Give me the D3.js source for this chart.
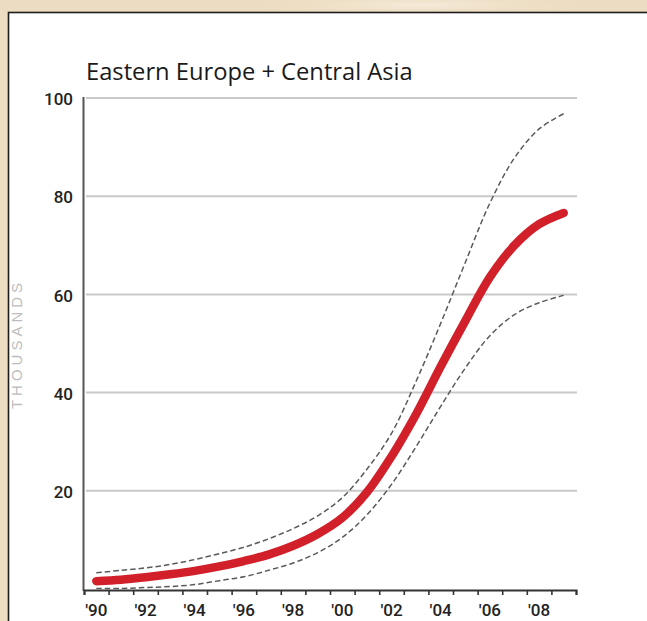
<!DOCTYPE html>
<html>
<head>
<meta charset="utf-8">
<script src="https://cdn.jsdelivr.net/npm/d3@7"></script>
<style>
  html, body { margin: 0; padding: 0; background: #ecdcc1; }
  svg { display: block; }
</style>
</head>
<body>
<script>
// values, thousands
var years = [1990, 1991, 1992, 1993, 1994, 1995, 1996, 1997, 1998, 1999,
             2000, 2001, 2002, 2003, 2004, 2005, 2006, 2007, 2008, 2009];
var estimate = [1.6, 1.9, 2.4, 3.0, 3.7, 4.6, 5.7, 7.0, 8.8, 11.2,
                14.5, 19.7, 27.0, 35.6, 45.3, 54.6, 63.5, 70.0, 74.3, 76.6];
var upper = [3.3, 3.8, 4.3, 5.0, 6.0, 7.2, 8.5, 10.2, 12.3, 14.9,
             18.6, 24.4, 31.7, 42.3, 54.1, 66.5, 78.6, 87.8, 93.7, 96.8];
var lower = [0.1, 0.1, 0.3, 0.5, 0.9, 1.7, 2.5, 3.8, 5.3, 7.4,
             10.5, 15.1, 21.3, 29.0, 37.2, 45.0, 51.6, 55.9, 58.3, 59.8];
var yTicks = [20, 40, 60, 80, 100];
var xLabels = ["'90", "'92", "'94", "'96", "'98", "'00", "'02", "'04", "'06", "'08"];

var W = 647, H = 621;
var tickFont = "Roboto, 'Liberation Sans', Arial, sans-serif";

var svg = d3.select("body").append("svg").attr("width", W).attr("height", H);

// parchment background
var defs = svg.append("defs");
var g1 = defs.append("radialGradient").attr("id", "blot");
g1.append("stop").attr("offset", "0%").attr("stop-color", "#f6ecdb");
g1.append("stop").attr("offset", "100%").attr("stop-color", "#ecdcc1").attr("stop-opacity", 0);
svg.append("rect").attr("width", W).attr("height", H).attr("fill", "#ecdcc1");
svg.append("ellipse").attr("cx", 60).attr("cy", 300).attr("rx", 60).attr("ry", 220).attr("fill", "url(#blot)");
svg.append("ellipse").attr("cx", 420).attr("cy", 5).attr("rx", 200).attr("ry", 12).attr("fill", "url(#blot)");

// white panel
svg.append("rect")
  .attr("x", 8.5).attr("y", 12.5)
  .attr("width", 700).attr("height", 700)
  .attr("fill", "#fff")
  .attr("stroke", "#1c1c1c")
  .attr("stroke-width", 1.6);

var x = d3.scaleLinear().domain([1990, 2010]).range([84, 576]);
var y = d3.scaleLinear().domain([0, 100]).range([589, 98]);

// title, sized to the width it has in the picture
var title = svg.append("text")
  .attr("x", 86).attr("y", 80)
  .attr("font-family", "'Open Sans', Lato, sans-serif")
  .attr("font-weight", 500)
  .attr("font-size", 21)
  .attr("fill", "#1a1a1a")
  .text("Eastern Europe + Central Asia");
var tw = title.node().getComputedTextLength();
title.attr("font-size", 21 * 327 / tw);

// gridlines
svg.append("g").selectAll("line").data(yTicks).enter().append("line")
  .attr("x1", 86).attr("x2", 577)
  .attr("y1", d => y(d)).attr("y2", d => y(d))
  .attr("stroke", "#c9c9c9")
  .attr("stroke-width", 2);

// y labels
svg.append("g").selectAll("text").data(yTicks).enter().append("text")
  .attr("x", 73).attr("y", d => y(d) + 1)
  .attr("dy", "0.36em")
  .attr("text-anchor", "end")
  .attr("font-family", tickFont)
  .attr("font-weight", 500)
  .attr("font-size", 17)
  .attr("fill", "#222")
  .text(d => d);

// y axis line
svg.append("line")
  .attr("x1", 83.5).attr("x2", 83.5)
  .attr("y1", 97).attr("y2", 591)
  .attr("stroke", "#555")
  .attr("stroke-width", 2);

// axis title
svg.append("text")
  .attr("transform", "translate(22,344) rotate(-90)")
  .attr("text-anchor", "middle")
  .attr("font-family", "'Liberation Sans', Arial, sans-serif")
  .attr("font-size", 15)
  .attr("letter-spacing", 4)
  .attr("fill", "#bdbdbd")
  .text("THOUSANDS");

// x axis: a tick at each year boundary, labels centred in the year
var xAxis = d3.axisBottom(x)
  .tickValues(d3.range(1990, 2011))
  .tickSize(5)
  .tickFormat("");
var gx = svg.append("g").attr("transform", "translate(0,590)").call(xAxis);
gx.select(".domain").attr("stroke", "#333").attr("stroke-width", 2);
gx.selectAll(".tick line").attr("stroke", "#333").attr("stroke-width", 1.6);

svg.append("g").selectAll("text").data(xLabels).enter().append("text")
  .attr("x", (d, i) => x(1990 + i * 2 + 0.5))
  .attr("y", 616)
  .attr("text-anchor", "middle")
  .attr("font-family", tickFont)
  .attr("font-weight", 500)
  .attr("font-size", 17)
  .attr("fill", "#222")
  .text(d => d);

// lines
var line = d3.line()
  .x((d, i) => x(years[i] + 0.5))
  .y(d => y(d))
  .curve(d3.curveCatmullRom.alpha(0.5));

[upper, lower].forEach(function (s) {
  svg.append("path")
    .attr("d", line(s))
    .attr("fill", "none")
    .attr("stroke", "#5a5a5a")
    .attr("stroke-width", 1.5)
    .attr("stroke-dasharray", "5.5,3");
});

svg.append("path")
  .attr("d", line(estimate))
  .attr("fill", "none")
  .attr("stroke", "#d2202a")
  .attr("stroke-width", 8.5)
  .attr("stroke-linecap", "round");
</script>
</body>
</html>
